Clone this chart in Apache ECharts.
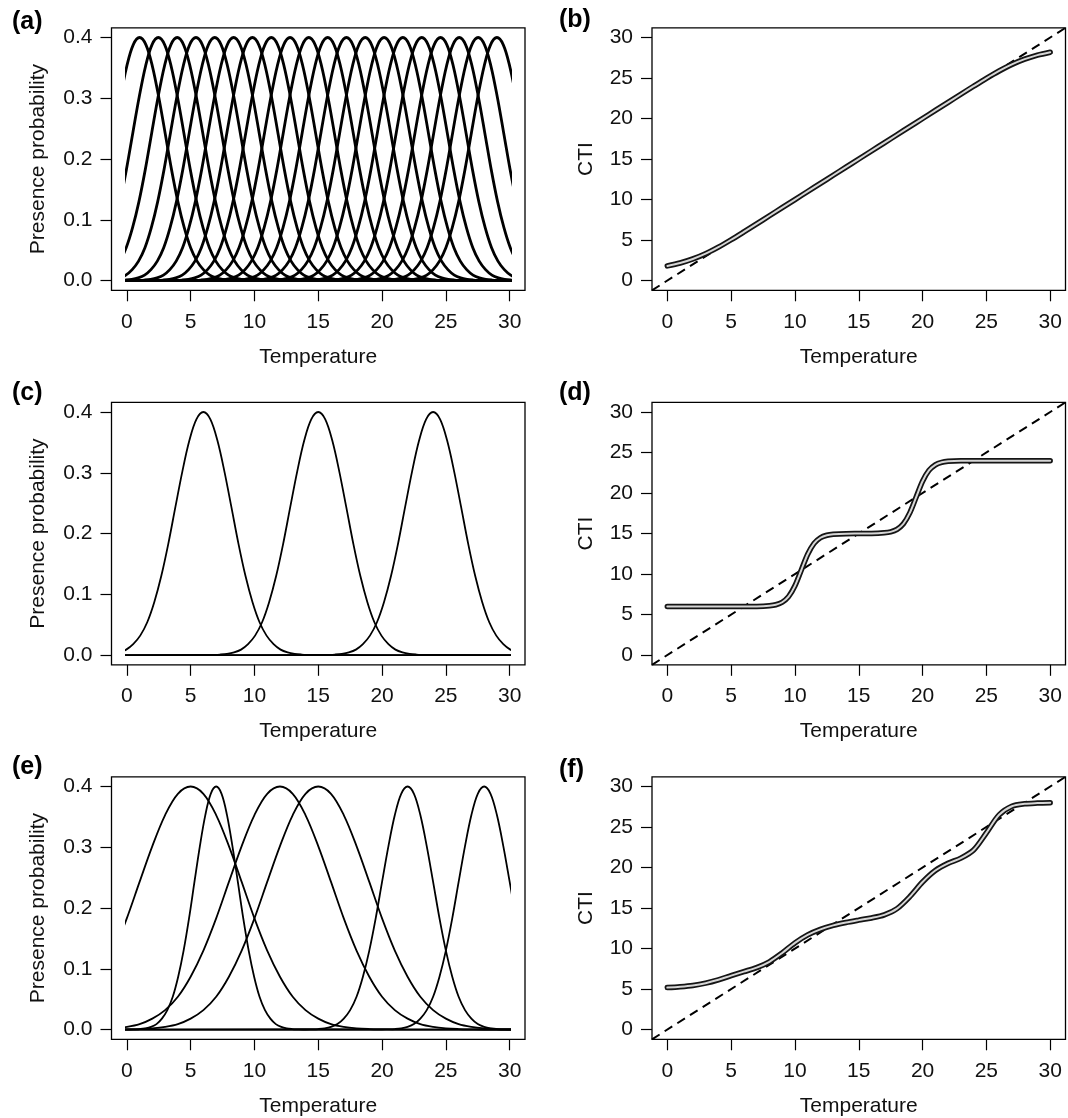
<!DOCTYPE html>
<html>
<head>
<meta charset="utf-8">
<script src="https://cdn.jsdelivr.net/npm/echarts@6/dist/echarts.min.js"></script>
<style>
html,body{margin:0;padding:0;background:#fff;}
#chart{width:1068px;height:1118px;}
</style>
</head>
<body>
<div id="chart"></div>
<script>
// ================= DATA =================
const panelLabels = ['(a)', '(b)', '(c)', '(d)', '(e)', '(f)'];
const tempTicks = [0, 5, 10, 15, 20, 25, 30];
const probTicks = [0, 0.1, 0.2, 0.3, 0.4];
const ctiTicks = [0, 5, 10, 15, 20, 25, 30];

// Response-curve shape: presence probability at distances (in tolerance units) from the optimum
const bellOffsets = [0, 0.25, 0.5, 0.75, 1, 1.25, 1.5, 1.75, 2, 2.25, 2.5, 2.75, 3, 3.25, 3.5, 3.75, 4];
const bellValues  = [0.400, 0.388, 0.353, 0.302, 0.243, 0.183, 0.130, 0.087, 0.054, 0.032, 0.018, 0.009, 0.0044, 0.0020, 0.0009, 0.0004, 0.0001];

// Panel (a): 20 species, evenly spaced optima
const optimaA = [1.00, 2.47, 3.95, 5.42, 6.89, 8.37, 9.84, 11.32, 12.79, 14.26, 15.74, 17.21, 18.68, 20.16, 21.63, 23.11, 24.58, 26.05, 27.53, 29.00];
const toleranceA = [2, 2, 2, 2, 2, 2, 2, 2, 2, 2, 2, 2, 2, 2, 2, 2, 2, 2, 2, 2];
// Panel (c): 3 species
const optimaC = [6, 15, 24];
const toleranceC = [2.2, 2.2, 2.2];
// Panel (e): 6 species
const optimaE = [5, 7, 12, 15, 22, 28];
const toleranceE = [4, 1.7, 4, 4, 2, 2];

// Panel (b): CTI vs temperature
const tempB = [0,1,2,3,4,5,6,7,8,9,10,11,12,13,14,15,16,17,18,19,20,21,22,23,24,25,26,27,28,29,30];
const ctiB  = [1.81,2.17,2.67,3.32,4.13,5.04,6.01,7.0,8.0,9.0,10.0,11.0,12.0,13.0,14.0,15.0,16.0,17.0,18.0,19.0,20.0,21.0,22.0,23.0,23.99,24.96,25.87,26.68,27.33,27.83,28.19];
// Panel (d)
const tempD = [0,1,2,3,4,5,6,7,8,8.5,9,9.5,10,10.5,11,11.5,12,12.5,13,14,15,16,17,17.5,18,18.5,19,19.5,20,20.5,21,21.5,22,23,24,25,26,27,28,29,30];
const ctiD  = [6,6,6,6,6,6,6,6.01,6.09,6.21,6.52,7.21,8.55,10.5,12.45,13.79,14.48,14.79,14.91,14.99,15,15.01,15.09,15.21,15.52,16.21,17.55,19.5,21.45,22.79,23.48,23.79,23.91,23.99,24,24,24,24,24,24,24];
// Panel (f)
const tempF = [0,1,2,3,4,5,6,7,8,9,10,11,12,13,14,15,16,17,18,19,20,21,22,23,24,25,26,27,28,29,30];
const ctiF  = [5.18,5.29,5.45,5.73,6.14,6.66,7.15,7.65,8.37,9.46,10.70,11.69,12.37,12.86,13.22,13.51,13.78,14.16,14.93,16.40,18.21,19.63,20.52,21.16,22.17,24.28,26.51,27.57,27.87,27.96,28.0];

// ================= LAYOUT / STYLE =================
const FONT = '"Liberation Sans", Arial, Helvetica, sans-serif';
const FS = 21;
const FW = 413.5, FH = 262.5;
const colLeft = [111.5, 652];
const rowTop = [27.8, 402.3, 776.8];
const labelPos = [[12, 23], [559, 21], [12, 394], [559, 393.5], [12, 768], [559, 771]];
const X_RANGE = [0, 30], X_PAD = 1.2;
const P_RANGE = [0, 0.4], P_PAD = 0.016;
const C_RANGE = [0, 30], C_PAD = 1.2;

function bellCurve(opt, tol) {
  const pts = [[-60, 0]];
  for (let i = bellOffsets.length - 1; i > 0; i--) pts.push([opt - bellOffsets[i] * tol, bellValues[i]]);
  for (let i = 0; i < bellOffsets.length; i++) pts.push([opt + bellOffsets[i] * tol, bellValues[i]]);
  pts.push([90, 0]);
  return pts;
}
function zip(a, b) { return a.map((v, i) => [v, b[i]]); }

const grids = [], xAxes = [], yAxes = [], series = [], graphics = [];
const tickStyle = { color: '#000', width: 1.2 };
const labelStyle = { color: '#111', fontSize: FS, fontFamily: FONT };

function frameAxes(gi, isProb) {
  xAxes.push({
    gridIndex: gi, type: 'value', min: X_RANGE[0] - X_PAD, max: X_RANGE[1] + X_PAD,
    axisLine: { show: false, onZero: false }, splitLine: { show: false },
    axisTick: { show: true, inside: false, length: 11, lineStyle: tickStyle, customValues: tempTicks },
    axisLabel: Object.assign({ customValues: tempTicks, margin: 21 }, labelStyle),
    name: 'Temperature', nameLocation: 'middle', nameGap: 56,
    nameTextStyle: { color: '#111', fontSize: FS, fontFamily: FONT }
  });
  const yr = isProb ? P_RANGE : C_RANGE, yp = isProb ? P_PAD : C_PAD;
  yAxes.push({
    gridIndex: gi, type: 'value', min: yr[0] - yp, max: yr[1] + yp,
    axisLine: { show: false, onZero: false }, splitLine: { show: false },
    axisTick: { show: true, inside: false, length: 11, lineStyle: tickStyle, customValues: isProb ? probTicks : ctiTicks },
    axisLabel: Object.assign({ customValues: isProb ? probTicks : ctiTicks, margin: 19,
      formatter: isProb ? (v => Number(v).toFixed(1)) : (v => String(v)) }, labelStyle),
    name: isProb ? 'Presence probability' : 'CTI', nameLocation: 'middle',
    nameGap: isProb ? 63 : 55,
    nameTextStyle: { color: '#111', fontSize: FS, fontFamily: FONT }
  });
}

const probPanels = { 0: [optimaA, toleranceA, 2.8], 2: [optimaC, toleranceC, 1.8], 4: [optimaE, toleranceE, 1.8] };
const ctiPanels = { 1: [tempB, ctiB], 3: [tempD, ctiD], 5: [tempF, ctiF] };

for (let p = 0; p < 6; p++) {
  const r = Math.floor(p / 2), c = p % 2;
  const left = colLeft[c], top = rowTop[r];
  const fi = grids.length;
  grids.push({ left: left, top: top, width: FW, height: FH, show: true, borderColor: '#000', borderWidth: 1.3,
    backgroundColor: 'transparent', containLabel: false, outerBoundsMode: 'none' });
  const isProb = p % 2 === 0;
  frameAxes(fi, isProb);
  const fx = xAxes.length - 1, fy = yAxes.length - 1;

  if (isProb) {
    const span = (X_RANGE[1] - X_RANGE[0]) + 2 * X_PAD;
    const di = grids.length;
    grids.push({ left: left + FW * X_PAD / span, top: top, width: FW * (X_RANGE[1] - X_RANGE[0]) / span, height: FH,
      show: false, containLabel: false, outerBoundsMode: 'none' });
    xAxes.push({ gridIndex: di, type: 'value', min: X_RANGE[0], max: X_RANGE[1], show: false });
    yAxes.push({ gridIndex: di, type: 'value', min: P_RANGE[0] - P_PAD, max: P_RANGE[1] + P_PAD, show: false });
    const dx = xAxes.length - 1, dy = yAxes.length - 1;
    const [opts, tols, lw] = probPanels[p];
    opts.forEach((o, k) => {
      series.push({ type: 'line', xAxisIndex: dx, yAxisIndex: dy, data: bellCurve(o, tols[k]),
        showSymbol: false, symbol: 'none', smooth: 0.35, clip: true, silent: true,
        lineStyle: { color: '#000', width: lw } });
    });
  } else {
    const [tx, ty] = ctiPanels[p];
    const d = zip(tx, ty);
    const lo = X_RANGE[0] - X_PAD, hi = X_RANGE[1] + X_PAD;
    // 1:1 reference line (drawn underneath the CTI curve)
    series.push({ type: 'line', xAxisIndex: fx, yAxisIndex: fy, data: [[lo, lo], [hi, hi]], showSymbol: false,
      symbol: 'none', silent: true, clip: true, z: 1,
      lineStyle: { color: '#000', width: 2, type: [9, 6] } });
    series.push({ type: 'line', xAxisIndex: fx, yAxisIndex: fy, data: d, showSymbol: false, symbol: 'none',
      smooth: 0.3, silent: true, z: 2, lineStyle: { color: '#151515', width: 5.5, cap: 'round', join: 'round' } });
    series.push({ type: 'line', xAxisIndex: fx, yAxisIndex: fy, data: d, showSymbol: false, symbol: 'none',
      smooth: 0.3, silent: true, z: 3, lineStyle: { color: '#d6d6d6', width: 2, cap: 'round', join: 'round' } });
  }
  graphics.push({ type: 'text', left: labelPos[p][0], top: labelPos[p][1] - 13,
    style: { text: panelLabels[p], font: 'bold 25px ' + FONT, fill: '#000' } });
}

const chart = echarts.init(document.getElementById('chart'), null, { renderer: 'canvas' });
chart.setOption({
  animation: false,
  backgroundColor: '#fff',
  grid: grids,
  xAxis: xAxes,
  yAxis: yAxes,
  series: series,
  graphic: graphics
});
</script>
</body>
</html>
